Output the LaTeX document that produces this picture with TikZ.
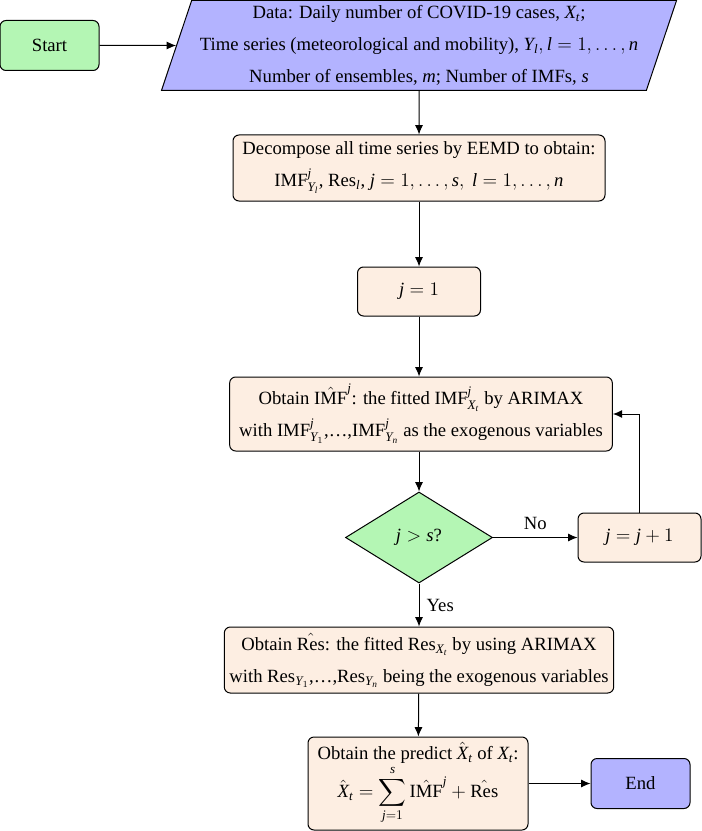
\documentclass[tikz,border=0pt]{standalone}
\usepackage{amsmath}
\usepackage{fontspec}
\setmainfont{Liberation Serif}
\DeclareSymbolFont{tletters}{TU}{\rmdefault}{m}{it}
\newcount\mylettercount
\mylettercount=`A
\loop \Umathcode\mylettercount=7 \symtletters \mylettercount \advance\mylettercount 1 \ifnum\mylettercount<91 \repeat
\mylettercount=`a
\loop \Umathcode\mylettercount=7 \symtletters \mylettercount \advance\mylettercount 1 \ifnum\mylettercount<123 \repeat
\usetikzlibrary{shapes.geometric,arrows.meta}
\definecolor{termgreen}{RGB}{180,246,180}
\definecolor{iolilac}{RGB}{179,179,255}
\definecolor{peach}{RGB}{253,238,226}
\begin{document}
\begin{tikzpicture}[x=0.75pt,y=-0.75pt,
  font=\fontsize{14}{24}\selectfont,
  line width=0.75pt,
  >={Latex[length=7pt,width=6pt]},
  procbox/.style={draw, rounded corners=4.5pt, fill=peach, align=center, inner sep=0pt},
  termbox/.style={draw, rounded corners=4.5pt, align=center, inner sep=0pt, minimum width=74.25pt, minimum height=37.5pt},
  iobox/.style={draw, fill=iolilac, trapezium, trapezium left angle=70, trapezium right angle=110, trapezium stretches=true, align=center, inner sep=0pt, minimum width=388.5pt, minimum height=67.5pt},
  decbox/.style={draw, fill=termgreen, diamond, inner sep=0pt, minimum width=110.25pt, minimum height=68.25pt}
]
\useasboundingbox (0,0) rectangle (702,831);

\node[termbox, fill=termgreen] (start) at (49.5,45.5) {Start};
\node[iobox] (data) at (419,45.5) {Data: Daily number of COVID-19 cases, $X_t$;\\
  Time series (meteorological and mobility), $Y_l, l=1,\ldots,n$\\
  Number of ensembles, $m$; Number of IMFs, $s$};
\node[procbox, minimum width=279pt, minimum height=49.5pt] (decomp) at (419,168) {Decompose all time series by EEMD to obtain:\\
  $\mathrm{IMF}^j_{Y_l}$, $\mathrm{Res}_l$, $j=1,\ldots,s,\ l=1,\ldots,n$};
\node[procbox, minimum width=92.25pt, minimum height=36.75pt] (init) at (419,291.5) {$j=1$};
\node[procbox, minimum width=287pt, minimum height=55.5pt] (fitimf) at (421,414) {Obtain $\hat{\mathrm{IMF}}^j$: the fitted $\mathrm{IMF}^j_{X_t}$ by ARIMAX\\
  with $\mathrm{IMF}^j_{Y_1}$,\ldots,$\mathrm{IMF}^j_{Y_n}$ as the exogenous variables};
\node[decbox] (test) at (419,537.5) {$j>s$?};
\node[procbox, minimum width=92.25pt, minimum height=36.75pt] (incr) at (639.5,537.5) {$j=j+1$};
\node[procbox, minimum width=292pt, minimum height=49.5pt] (fitres) at (419,660) {Obtain $\hat{\mathrm{Res}}$: the fitted $\mathrm{Res}_{X_t}$ by using ARIMAX\\
  with $\mathrm{Res}_{Y_1}$,\ldots,$\mathrm{Res}_{Y_n}$ being the exogenous variables};
\node[procbox, minimum width=165pt, minimum height=69.75pt] (pred) at (418,783.5) {Obtain the predict $\hat{X}_t$ of $X_t$:\\[0pt]
  $\displaystyle\hat{X}_t=\sum_{j=1}^{s}\hat{\mathrm{IMF}}^j+\hat{\mathrm{Res}}$};
\node[termbox, fill=iolilac] (finish) at (640.5,783.5) {End};

\draw[->] (start.east) -- (data.west);
\draw[->] (data) -- (decomp);
\draw[->] (decomp) -- (init);
\draw[->] (init) -- (init |- fitimf.north);
\draw[->] (init |- fitimf.south) -- (test);
\draw[->] (test) -- node[above, yshift=2pt] {No} (incr);
\draw[->] (incr.north) |- (fitimf.east);
\draw[->] (test) -- node[right, xshift=2pt] {Yes} (fitres);
\draw[->] (fitres) -- (pred);
\draw[->] (pred) -- (finish);
\end{tikzpicture}
\end{document}
